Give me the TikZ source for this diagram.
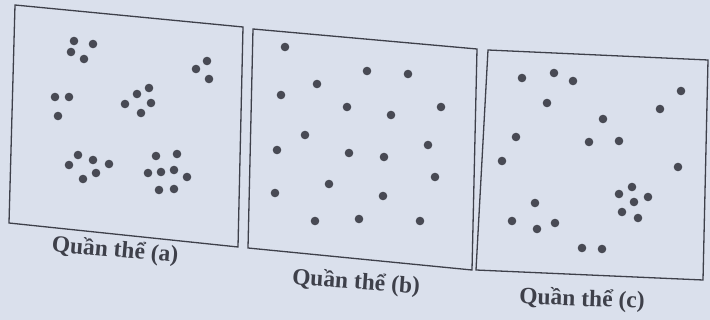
\documentclass[tikz,border=0pt]{standalone}
\usepackage{fontspec}
\setmainfont{Liberation Serif}
\definecolor{paper}{RGB}{218,224,236}
\definecolor{ink}{RGB}{62,64,74}
\definecolor{dotc}{RGB}{72,74,84}
\begin{document}
\begin{tikzpicture}[x=1pt,y=-1pt,
  boxline/.style={draw=ink,line width=1.3pt},
  dotst/.style={fill=dotc},
  lab/.style={font=\bfseries\fontsize{23.5}{26}\selectfont,text=ink,inner sep=0pt}]
\fill[paper] (0,0) rectangle (710,320);
\useasboundingbox (0,0) rectangle (710,320);
% box a
\coordinate (a1) at (15,5); \coordinate (a2) at (243,27);
\coordinate (a3) at (238,247); \coordinate (a4) at (9,223);
\draw[boxline] (a1) -- (a2) -- (a3) -- (a4) -- cycle;
% box b
\coordinate (b1) at (253,29); \coordinate (b2) at (477,49);
\coordinate (b3) at (472,270); \coordinate (b4) at (248,248);
\draw[boxline] (b1) -- (b2) -- (b3) -- (b4) -- cycle;
% box c
\coordinate (c1) at (488,50); \coordinate (c2) at (708,60);
\coordinate (c3) at (703,280); \coordinate (c4) at (476,270);
\draw[boxline] (c1) -- (c2) -- (c3) -- (c4) -- cycle;
% dots a (clumped)
\foreach \p in {(74,41),(93,44),(71,52),(84,59),
  (207,61),(196,69),(209,79),
  (55,97),(69,97),(58,116),
  (149,88),(137,94),(151,103),(125,104),(141,113),
  (78,155),(93,160),(69,165),(109,164),(96,173),(83,179),
  (156,156),(177,154),(148,173),(161,172),(174,170),(187,177),(159,190),(174,189)}
  \fill[dotst] \p circle (4.3);
% dots b (uniform)
\foreach \p in {(285,47),(367,71),(408,74),(317,84),(281,95),(347,107),(391,115),(441,107),
  (305,135),(277,150),(349,153),(384,157),(428,145),(435,177),(329,184),(275,193),
  (383,196),(315,221),(359,219),(420,221)}
  \fill[dotst] \p circle (4.3);
% dots c (random)
\foreach \p in {(522,78),(554,73),(573,81),(547,103),(681,91),(660,109),(603,119),
  (516,137),(589,142),(619,141),(502,161),(678,167),
  (632,187),(619,194),(648,197),(634,202),(622,212),(638,218),
  (535,203),(512,221),(537,229),(555,223),(582,248),(602,249)}
  \fill[dotst] \p circle (4.3);
% labels
\node[lab,rotate=-5] (la) at (115,251) {Quần thể (a)};
\node[lab,rotate=-4] (lb) at (356,283) {Quần thể (b)};
\node[lab,rotate=-2] (lc) at (582,300) {Quần thể (c)};
\end{tikzpicture}
\end{document}
